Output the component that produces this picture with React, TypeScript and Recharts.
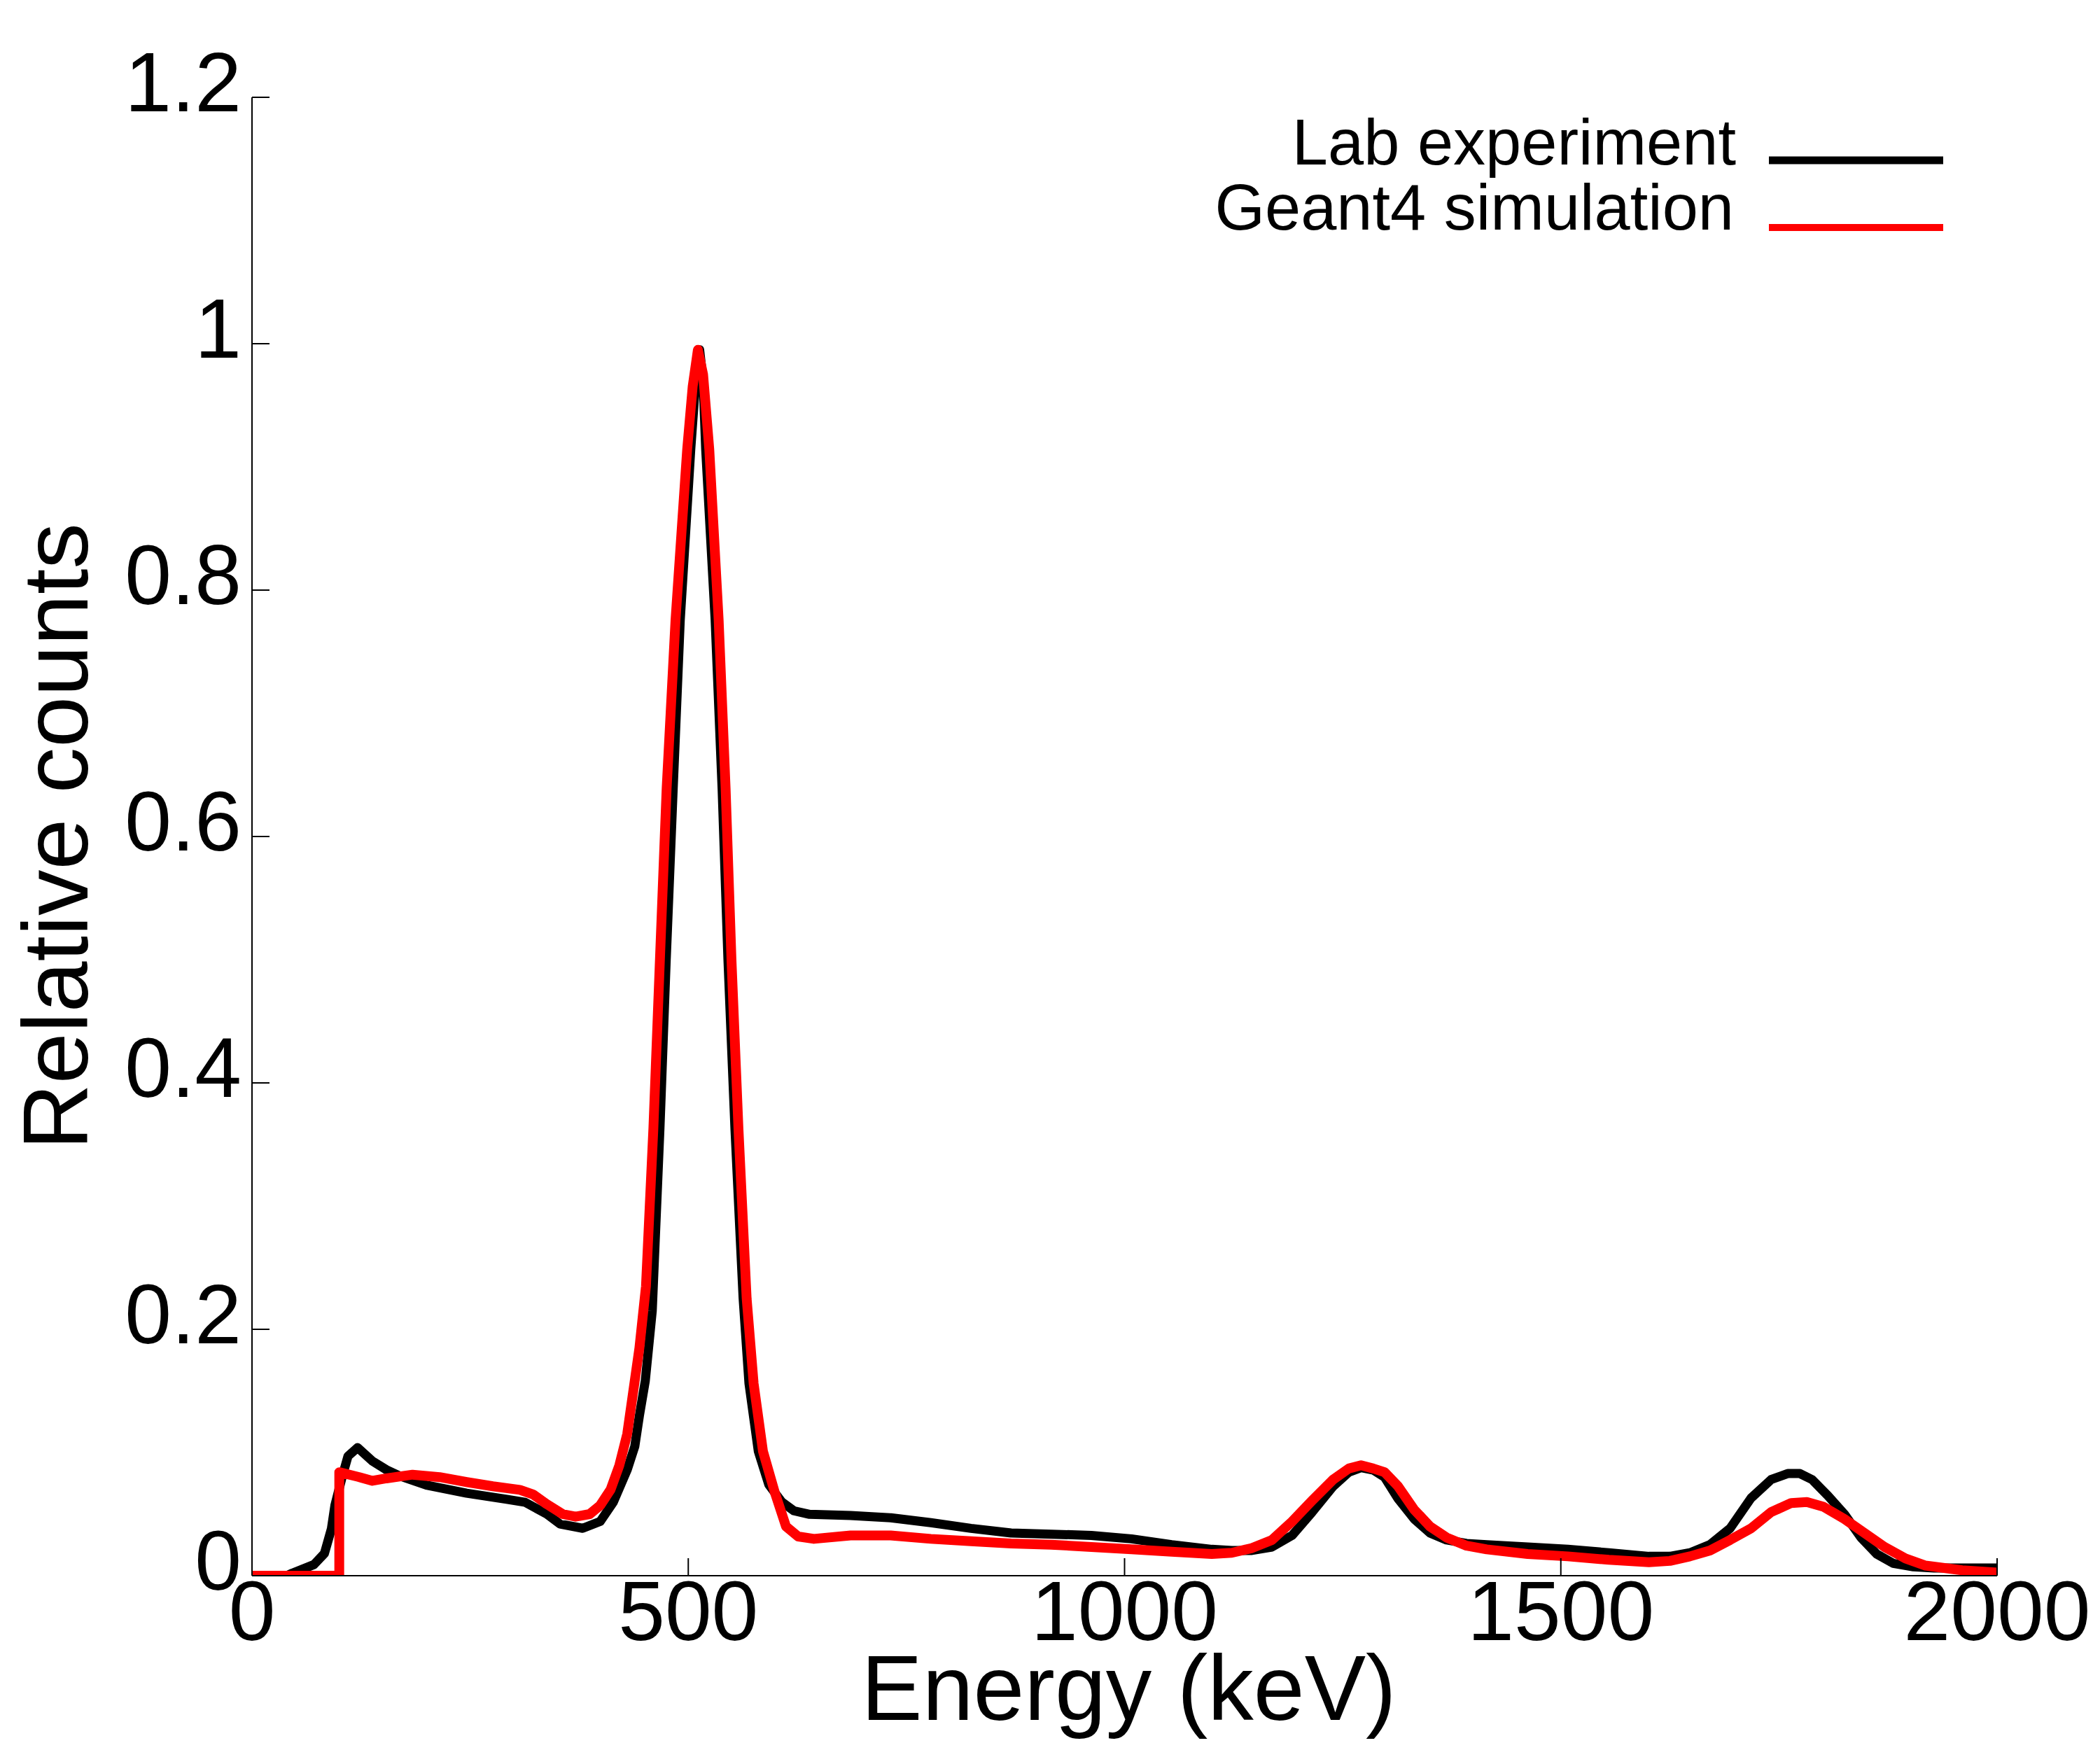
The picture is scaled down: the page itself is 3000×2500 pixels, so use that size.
import { LineChart, Line, XAxis, YAxis, Legend, Label } from 'recharts';

const FONT = '"Liberation Sans", Arial, sans-serif';

// Lab experiment (black)
const labEnergy = [
  0, 40, 46, 71, 83, 91, 95, 104, 110, 121, 138, 154, 169, 200, 246, 292, 313, 338, 353, 379,
  399, 414, 430, 438.7, 444, 450.7, 458.7, 467.5, 474.7, 482.7, 490.8, 502.8, 508, 513, 517, 520,
  530.8, 538.8, 545.5, 553.5, 562.9, 569.6, 580.3, 592.3, 607, 621, 639, 686, 732, 778, 824, 870,
  916, 962, 1008, 1054, 1100, 1123, 1146, 1169, 1192, 1215, 1239, 1257, 1271, 1285, 1298, 1313,
  1332, 1350, 1369, 1392, 1415, 1462, 1508, 1555, 1601, 1625, 1648, 1671, 1694, 1718, 1741, 1760,
  1774, 1788, 1806, 1825, 1844, 1862, 1881, 1904, 1928, 1974, 2000,
];
const labCounts = [
  0, 0, 0.002, 0.009, 0.018, 0.038, 0.057, 0.082, 0.097, 0.104, 0.093, 0.086, 0.081, 0.0735, 0.067,
  0.062, 0.0596, 0.05, 0.042, 0.0385, 0.044, 0.0596, 0.086, 0.105, 0.13, 0.158, 0.215, 0.363, 0.5,
  0.639, 0.776, 0.914, 0.965, 0.995, 0.97, 0.914, 0.776, 0.639, 0.5, 0.363, 0.225, 0.156, 0.101,
  0.074, 0.06, 0.0527, 0.0498, 0.0489, 0.047, 0.043, 0.0384, 0.0347, 0.0337, 0.0327, 0.0299, 0.0252,
  0.0214, 0.0205, 0.0205, 0.0233, 0.0327, 0.0516, 0.0725, 0.084, 0.0877, 0.0858, 0.08, 0.063, 0.046,
  0.0347, 0.029, 0.0262, 0.0252, 0.0233, 0.0214, 0.0186, 0.0157, 0.0157, 0.0186, 0.0252, 0.0384,
  0.063, 0.078, 0.0829, 0.0829, 0.078, 0.065, 0.05, 0.031, 0.0176, 0.01, 0.0072, 0.0063, 0.0063,
  0.0063,
];

// Geant4 simulation (red)
const simEnergy = [
  0, 100, 100, 123, 138, 154, 184, 215, 246, 276, 307, 322, 338, 356, 371, 387, 399, 411, 421, 430,
  439, 444, 451.5, 460, 467.5, 475.2, 485.4, 498.7, 505, 511, 517, 524.1, 534.8, 542.8, 549.5, 557.5,
  566.9, 574.9, 585.6, 599, 612, 626, 644, 686, 732, 778, 824, 870, 916, 962, 1008, 1054, 1100, 1123,
  1146, 1169, 1192, 1215, 1239, 1257, 1271, 1285, 1298, 1313, 1332, 1350, 1369, 1392, 1415, 1462,
  1508, 1555, 1601, 1625, 1648, 1671, 1694, 1718, 1741, 1764, 1782, 1801, 1825, 1848, 1871, 1895,
  1918, 1960, 2000,
];
const simCounts = [
  0, 0, 0.084, 0.08, 0.077, 0.079, 0.082, 0.08, 0.076, 0.0726, 0.0697, 0.066, 0.058, 0.05, 0.0479,
  0.05, 0.057, 0.07, 0.0896, 0.115, 0.16, 0.185, 0.235, 0.363, 0.5, 0.639, 0.776, 0.914, 0.965, 0.995,
  0.975, 0.914, 0.776, 0.639, 0.5, 0.363, 0.225, 0.156, 0.101, 0.068, 0.04, 0.0318, 0.0299, 0.0327,
  0.0327, 0.0299, 0.028, 0.0262, 0.0252, 0.0233, 0.0214, 0.0195, 0.0176, 0.0186, 0.0224, 0.029, 0.044,
  0.061, 0.078, 0.087, 0.0896, 0.087, 0.084, 0.073, 0.0536, 0.04, 0.031, 0.0243, 0.0214, 0.0176,
  0.0157, 0.0129, 0.011, 0.012, 0.0157, 0.0205, 0.029, 0.0384, 0.0516, 0.059, 0.0598, 0.056, 0.046,
  0.0347, 0.0233, 0.014, 0.0082, 0.0044, 0.0025,
];

const xTicks = [0, 500, 1000, 1500, 2000];
const yTicks = [0, 0.2, 0.4, 0.6, 0.8, 1, 1.2];
const legendOrder = ['Lab experiment', 'Geant4 simulation'];

const labData = labEnergy.map((e, i) => ({ e, v: labCounts[i] }));
const simData = simEnergy.map((e, i) => ({ e, v: simCounts[i] }));

const TICK_LEN = 25;

const BottomTick = ({ x, y, payload }: any) => (
  <g>
    <line x1={x} y1={y} x2={x} y2={y - TICK_LEN} stroke="#000" strokeWidth={2} />
    <text x={x} y={y + 92} textAnchor="middle" fontSize={120} fontFamily={FONT} fill="#000">
      {payload.value}
    </text>
  </g>
);

const TopTick = ({ x, y }: any) => (
  <line x1={x} y1={y} x2={x} y2={y + TICK_LEN} stroke="#000" strokeWidth={2} />
);

const LeftTick = ({ x, y, payload }: any) => (
  <g>
    <line x1={x} y1={y} x2={x + TICK_LEN} y2={y} stroke="#000" strokeWidth={2} />
    <text x={x - 15} y={y + 20} textAnchor="end" fontSize={120} fontFamily={FONT} fill="#000">
      {String(payload.value)}
    </text>
  </g>
);

const RightTick = ({ x, y }: any) => (
  <line x1={x} y1={y} x2={x - TICK_LEN} y2={y} stroke="#000" strokeWidth={2} />
);

const renderLegend = ({ payload }: any) => {
  const items = legendOrder
    .map((name) => (payload || []).find((p: any) => p.value === name))
    .filter(Boolean);
  return (
    <svg width={1160} height={230}>
      {items.map((p: any, i: number) => (
        <g key={p.value}>
          <text
            x={780 - i * 3}
            y={95 + i * 93}
            textAnchor="end"
            fontSize={92}
            fontFamily={FONT}
            fill="#000"
          >
            {p.value}
          </text>
          <line
            x1={827}
            x2={1076}
            y1={89 + i * 96}
            y2={89 + i * 96}
            stroke={p.color}
            strokeWidth={i === 0 ? 11 : 10}
          />
        </g>
      ))}
    </svg>
  );
};

export default function App() {
  const axis = { stroke: '#000', strokeWidth: 2 };
  return (
    <div style={{ position: 'absolute', left: 0, top: 0, background: '#fff' }}>
      <LineChart width={3000} height={2500} margin={{ top: 139, right: 147, left: 0, bottom: 0 }}>
        <XAxis
          xAxisId="b"
          dataKey="e"
          type="number"
          domain={[0, 2000]}
          ticks={xTicks}
          interval={0}
          allowDataOverflow
          height={249}
          tickSize={0}
          tickMargin={0}
          axisLine={axis}
          tickLine={false}
          tick={<BottomTick />}
        >
          <Label
            content={({ viewBox }: any) => (
              <text
                x={viewBox.x + viewBox.width / 2 + 6}
                y={viewBox.y + 206}
                textAnchor="middle"
                fontSize={131}
                fontFamily={FONT}
                fill="#000"
              >
                Energy (keV)
              </text>
            )}
          />
        </XAxis>
        <XAxis
          xAxisId="t"
          orientation="top"
          dataKey="e"
          type="number"
          domain={[0, 2000]}
          ticks={xTicks}
          interval={0}
          allowDataOverflow
          height={0}
          tickSize={0}
          tickMargin={0}
          axisLine={axis}
          tickLine={false}
          tick={<TopTick />}
        />
        <YAxis
          yAxisId="l"
          type="number"
          domain={[0, 1.2]}
          ticks={yTicks}
          interval={0}
          allowDataOverflow
          width={360}
          tickSize={0}
          tickMargin={0}
          axisLine={axis}
          tickLine={false}
          tick={<LeftTick />}
        >
          <Label
            content={({ viewBox }: any) => {
              const cy = viewBox.y + viewBox.height / 2;
              return (
                <text
                  x={125}
                  y={cy}
                  transform={`rotate(-90 125 ${cy})`}
                  textAnchor="middle"
                  fontSize={131}
                  fontFamily={FONT}
                  fill="#000"
                >
                  Relative counts
                </text>
              );
            }}
          />
        </YAxis>
        <YAxis
          yAxisId="r"
          orientation="right"
          type="number"
          domain={[0, 1.2]}
          ticks={yTicks}
          interval={0}
          allowDataOverflow
          width={0}
          tickSize={0}
          tickMargin={0}
          axisLine={axis}
          tickLine={false}
          tick={<RightTick />}
        />
        <Legend
          layout="horizontal"
          verticalAlign="middle"
          align="center"
          wrapperStyle={{ left: 1700, top: 140, width: 1160, height: 230 }}
          content={renderLegend}
        />
        <Line
          data={labData}
          xAxisId="b"
          yAxisId="l"
          dataKey="v"
          name="Lab experiment"
          stroke="#000000"
          strokeWidth={13}
          strokeLinejoin="round"
          dot={false}
          isAnimationActive={false}
        />
        <Line
          data={simData}
          xAxisId="b"
          yAxisId="l"
          dataKey="v"
          name="Geant4 simulation"
          stroke="#ff0000"
          strokeWidth={14}
          strokeLinejoin="round"
          dot={false}
          isAnimationActive={false}
        />
      </LineChart>
    </div>
  );
}
